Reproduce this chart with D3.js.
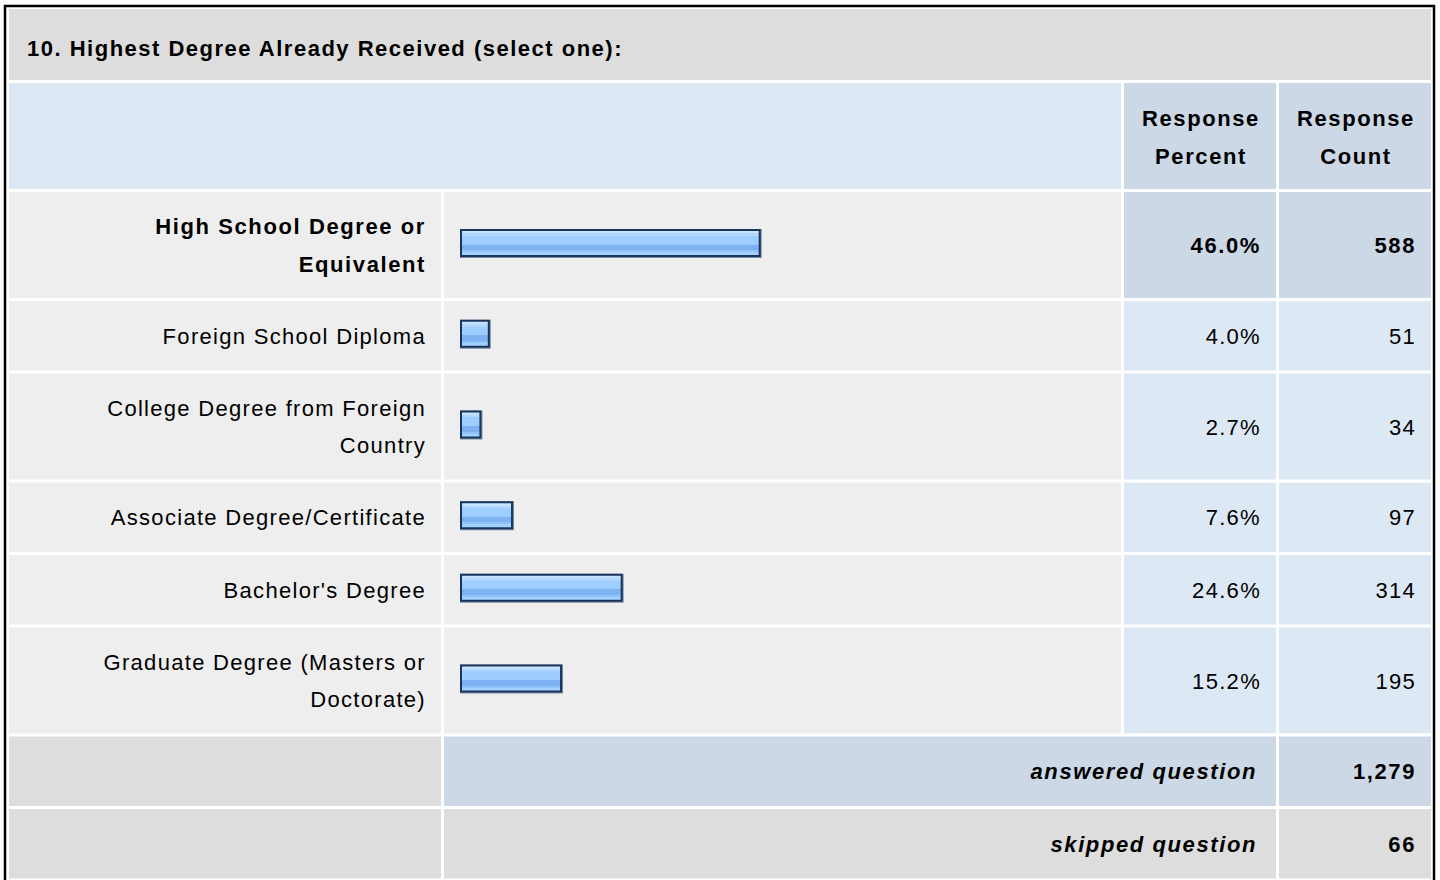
<!DOCTYPE html>
<html>
<head>
<meta charset="utf-8">
<script src="https://cdn.jsdelivr.net/npm/d3@7"></script>
<style>
body { margin: 0; background: #fff; }
svg { display: block; font-family: "Liberation Sans", Arial, sans-serif; }
</style>
</head>
<body>
<svg></svg>
<script>
// chart data
let title = "10. Highest Degree Already Received (select one):"
let categories = [
    "High School Degree or Equivalent",
    "Foreign School Diploma",
    "College Degree from Foreign Country",
    "Associate Degree/Certificate",
    "Bachelor's Degree",
    "Graduate Degree (Masters or Doctorate)"
]
let percents = [46.0, 4.0, 2.7, 7.6, 24.6, 15.2]
let counts = [588, 51, 34, 97, 314, 195]
let headers = ["Response Percent", "Response Count"]
let footerLabels = ["answered question", "skipped question"]
let footerCounts = [1279, 66]

let width = 1440
let height = 880
let gap = 3
let fontSize = 22
let lineH = 36.5
let pad = 15

// letter spacing for regular / bold text
let lsNormal = '1.3px'
let lsBold = '1.6px'

// column edges [left, right]
let cols = [[9, 441], [444, 1121], [1124, 1276], [1279, 1431]]

let svg = d3.select('svg')
    .attr('width', width)
    .attr('height', height)

let defs = svg.append('defs')
let grad = defs.append('linearGradient')
    .attr('id', 'barGrad')
    .attr('x1', 0).attr('y1', 0).attr('x2', 0).attr('y2', 1)
let stops = [
    [0, '#c6e2ff'], [0.1, '#c6e2ff'], [0.1, '#afd7ff'], [0.2, '#afd7ff'],
    [0.2, '#9ecdff'], [0.57, '#9ecdff'], [0.57, '#7db1f1'], [0.8, '#7db1f1'],
    [0.8, '#8fc3fb'], [0.88, '#8fc3fb'], [0.88, '#a2d0ff'], [1, '#a2d0ff']
]
grad.selectAll('stop')
    .data(stops)
    .enter()
    .append('stop')
    .attr('offset', d => d[0])
    .attr('stop-color', d => d[1])

// helper to measure and wrap words
let measure = svg.append('text')
    .attr('font-size', fontSize)
    .attr('visibility', 'hidden')

let wrap = (text, maxW, bold) => {
    measure.attr('font-weight', bold ? 'bold' : 'normal')
        .style('letter-spacing', bold ? lsBold : lsNormal)
    let words = text.split(' ')
    let lines = []
    let cur = ''
    words.forEach(w => {
        let test = cur ? cur + ' ' + w : w
        measure.text(test)
        if (cur && measure.node().getComputedTextLength() > maxW) {
            lines.push(cur)
            cur = w
        } else {
            cur = test
        }
    })
    lines.push(cur)
    return lines
}

let rowHeight = (n) => 33 + lineH * n

let maxPct = d3.max(percents)

// build rows
let rows = categories.map((c, i) => {
    let bold = percents[i] === maxPct
    let lines = wrap(c, 380, bold)
    return { label: c, lines: lines, pct: percents[i], count: counts[i], bold: bold }
})

let headerLines = headers.map(h => wrap(h, 120, true))

// frame
svg.append('rect')
    .attr('x', 5).attr('y', 6)
    .attr('width', 1429).attr('height', height + 20)
    .attr('fill', '#fff')
    .attr('stroke', '#000')
    .attr('stroke-width', 2.5)

// title row
let y = 9
let titleH = 71
svg.append('rect')
    .attr('x', cols[0][0]).attr('y', y)
    .attr('width', cols[3][1] - cols[0][0]).attr('height', titleH)
    .attr('fill', '#dddddd')
svg.append('text')
    .attr('x', 27).attr('y', y + titleH / 2 + 11)
    .attr('font-size', fontSize)
    .attr('font-weight', 'bold')
    .style('letter-spacing', '1.5px')
    .text(title)
y += titleH + gap

let drawLines = (lines, x, cy, anchor, bold, italic) => {
    let t = svg.append('text')
        .attr('font-size', fontSize)
        .attr('font-weight', bold ? 'bold' : 'normal')
        .attr('font-style', italic ? 'italic' : 'normal')
        .attr('text-anchor', anchor)
        .style('letter-spacing', bold ? lsBold : lsNormal)
        .attr('fill', '#000')
    lines.forEach((l, i) => {
        t.append('tspan')
            .attr('x', x)
            .attr('y', cy + 8 + (i - (lines.length - 1) / 2) * 37.5)
            .text(l)
    })
}

// header row
let headH = rowHeight(d3.max(headerLines, d => d.length))
svg.append('rect')
    .attr('x', cols[0][0]).attr('y', y)
    .attr('width', cols[1][1] - cols[0][0]).attr('height', headH)
    .attr('fill', '#dde8f5')
headerLines.forEach((lines, i) => {
    let c = cols[i + 2]
    svg.append('rect')
        .attr('x', c[0]).attr('y', y)
        .attr('width', c[1] - c[0]).attr('height', headH)
        .attr('fill', '#ccd8e6')
    drawLines(lines, (c[0] + c[1]) / 2 + 1, y + headH / 2 + 1, 'middle', true, false)
})
y += headH + gap

// bar scale
let xScale = d3.scaleLinear()
    .domain([0, 100])
    .range([cols[1][0] + 16, cols[1][1] - 16])

let fmtPct = d3.format('.1f')
let fmtCount = d3.format(',')

rows.forEach(r => {
    let h = rowHeight(r.lines.length)
    let cy = y + h / 2
    let fills = ['#eeeeee', '#eeeeee', r.bold ? '#ccd8e6' : '#dde8f5', r.bold ? '#ccd8e6' : '#dde8f5']
    cols.forEach((c, j) => {
        svg.append('rect')
            .attr('x', c[0]).attr('y', y)
            .attr('width', c[1] - c[0]).attr('height', h)
            .attr('fill', fills[j])
    })
    drawLines(r.lines, cols[0][1] - pad, cy, 'end', r.bold, false)

    // bar
    let bx = xScale(0)
    let bw = xScale(r.pct) - xScale(0) + 5
    let by = cy - 16
    let g = svg.append('g').attr('class', 'bar')
    g.append('rect')
        .attr('x', bx).attr('y', by)
        .attr('width', bw).attr('height', 29)
        .attr('fill', '#7d8ca3')
    g.append('rect')
        .attr('x', bx).attr('y', by)
        .attr('width', bw - 1).attr('height', 28)
        .attr('fill', '#18355d')
    g.append('rect')
        .attr('x', bx + 2).attr('y', by + 2)
        .attr('width', bw - 5).attr('height', 24)
        .attr('fill', 'url(#barGrad)')

    drawLines([fmtPct(r.pct) + '%'], cols[2][1] - pad, cy, 'end', r.bold, false)
    drawLines([fmtCount(r.count)], cols[3][1] - pad, cy, 'end', r.bold, false)
    y += h + gap
})

// footer rows
footerLabels.forEach((lab, i) => {
    let h = rowHeight(1)
    let cy = y + h / 2
    let mid = i === 0 ? '#ccd8e6' : '#dddddd'
    svg.append('rect')
        .attr('x', cols[0][0]).attr('y', y)
        .attr('width', cols[0][1] - cols[0][0]).attr('height', h)
        .attr('fill', '#dddddd')
    svg.append('rect')
        .attr('x', cols[1][0]).attr('y', y)
        .attr('width', cols[2][1] - cols[1][0]).attr('height', h)
        .attr('fill', mid)
    svg.append('rect')
        .attr('x', cols[3][0]).attr('y', y)
        .attr('width', cols[3][1] - cols[3][0]).attr('height', h)
        .attr('fill', mid)
    drawLines([lab], cols[2][1] - 19, cy, 'end', true, true)
    drawLines([fmtCount(footerCounts[i])], cols[3][1] - pad, cy, 'end', true, false)
    y += h + gap
})
</script>
</body>
</html>
